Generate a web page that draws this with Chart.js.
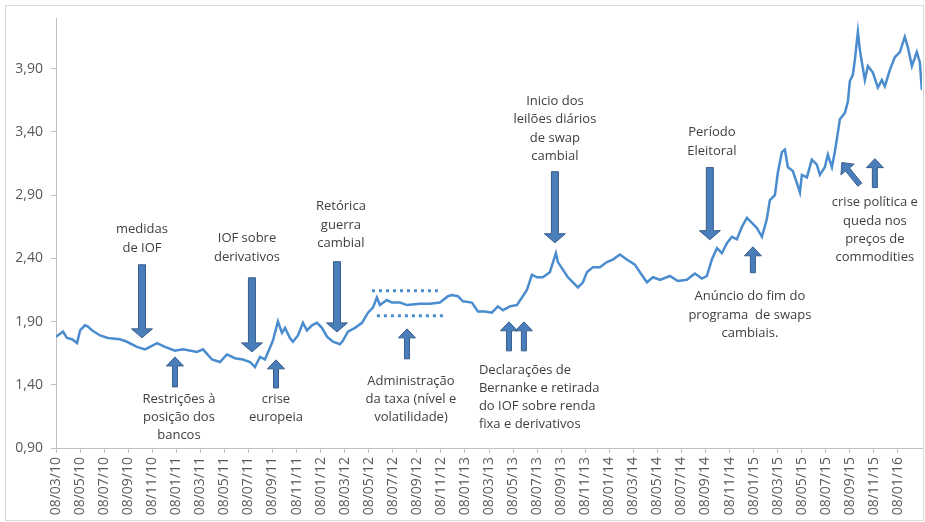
<!DOCTYPE html>
<html>
<head>
<meta charset="utf-8">
<script src="https://cdn.jsdelivr.net/npm/chart.js@4"></script>
<style>
  html, body { margin: 0; padding: 0; background: #fff; }
  #wrap { width: 925px; height: 522px; }
</style>
</head>
<body>
<div id="wrap"><canvas id="fxChart"></canvas></div>
<script>
// --- Data: months since 08/03/10 and BRL/USD rate ---
const months = [
  0.00, 0.58, 0.91, 1.33, 1.75, 2.00, 2.41, 2.66, 2.99, 3.66, 4.32, 5.32, 5.90, 6.73, 7.40, 7.81,
  8.40, 9.06, 9.89, 10.56, 11.72, 12.22, 12.97, 13.63, 14.21, 14.88, 15.54, 16.13, 16.54, 16.96,
  17.37, 18.04, 18.45, 18.79, 19.04, 19.45, 19.70, 20.12, 20.53, 20.86, 21.28, 21.70, 22.11, 22.53,
  23.03, 23.61, 23.86, 24.27, 24.86, 25.44, 25.94, 26.35, 26.68, 26.93, 27.51, 27.93, 28.60, 29.18,
  30.26, 31.09, 31.92, 32.59, 32.92, 33.42, 33.83, 34.58, 35.08, 35.66, 36.24, 36.74, 37.16, 37.74,
  38.32, 38.74, 39.15, 39.57, 39.98, 40.48, 41.06, 41.56, 41.73, 42.14, 42.56, 42.98, 43.39, 43.81,
  44.14, 44.64, 45.22, 45.80, 46.30, 46.88, 47.46, 48.13, 48.55, 49.13, 49.63, 50.21, 51.04, 51.70,
  52.45, 53.12, 53.70, 54.11, 54.53, 54.95, 55.36, 55.78, 56.20, 56.61, 57.03, 57.44, 57.86, 58.27,
  58.69, 59.10, 59.35, 59.77, 60.02, 60.35, 60.60, 60.85, 61.26, 61.68, 61.85, 62.01, 62.43, 62.84,
  63.26, 63.51, 63.92, 64.17, 64.51, 64.75, 65.00, 65.17, 65.59, 65.84, 66.00, 66.25, 66.42, 66.67,
  66.83, 67.00, 67.25, 67.50, 67.91, 68.33, 68.66, 68.91, 69.33, 69.74, 70.16, 70.57, 70.82, 71.16,
  71.57, 71.82, 71.99
];
const rate = [
  1.78, 1.82, 1.77, 1.76, 1.73, 1.83, 1.87, 1.86, 1.83, 1.79, 1.77, 1.76, 1.74, 1.70, 1.68, 1.70,
  1.73, 1.70, 1.67, 1.68, 1.66, 1.68, 1.60, 1.58, 1.64, 1.61, 1.60, 1.58, 1.54, 1.62,
  1.60, 1.75, 1.90, 1.81, 1.85, 1.77, 1.74, 1.79, 1.89, 1.83, 1.87, 1.89, 1.85, 1.78,
  1.74, 1.72, 1.75, 1.82, 1.85, 1.89, 1.97, 2.01, 2.09, 2.03, 2.07, 2.05, 2.05, 2.03,
  2.04, 2.04, 2.05, 2.10, 2.11, 2.10, 2.06, 2.05, 1.98, 1.98, 1.97, 2.02, 1.99, 2.02,
  2.03, 2.09, 2.15, 2.27, 2.25, 2.25, 2.29, 2.44, 2.37, 2.31, 2.25, 2.21, 2.17, 2.21,
  2.29, 2.33, 2.33, 2.37, 2.39, 2.43, 2.39, 2.35, 2.29, 2.21, 2.25, 2.23, 2.26, 2.22,
  2.23, 2.28, 2.24, 2.26, 2.39, 2.48, 2.44, 2.52, 2.57, 2.55, 2.65, 2.72, 2.68, 2.64,
  2.57, 2.71, 2.86, 2.90, 3.08, 3.24, 3.26, 3.12, 3.09, 2.97, 2.92, 3.06, 3.04, 3.18,
  3.14, 3.06, 3.12, 3.22, 3.12, 3.24, 3.39, 3.50, 3.55, 3.64, 3.80, 3.85, 3.97, 4.19,
  4.05, 3.95, 3.81, 3.92, 3.87, 3.75, 3.81, 3.76, 3.89, 3.99, 4.03, 4.15, 4.07, 3.92,
  4.03, 3.95, 3.73
];

// --- Axis ticks ---
const tickLabels = [
  "08/03/10", "08/05/10", "08/07/10", "08/09/10", "08/11/10",
  "08/01/11", "08/03/11", "08/05/11", "08/07/11", "08/09/11", "08/11/11",
  "08/01/12", "08/03/12", "08/05/12", "08/07/12", "08/09/12", "08/11/12",
  "08/01/13", "08/03/13", "08/05/13", "08/07/13", "08/09/13", "08/11/13",
  "08/01/14", "08/03/14", "08/05/14", "08/07/14", "08/09/14", "08/11/14",
  "08/01/15", "08/03/15", "08/05/15", "08/07/15", "08/09/15", "08/11/15",
  "08/01/16"
];
const yTicks = [0.90, 1.40, 1.90, 2.40, 2.90, 3.40, 3.90];

// --- Annotations (anchored in month / rate units) ---
const notes = [
  { m: 7.15,  v: 2.626, align: "center", lines: ["medidas", "de IOF"] },
  { m: 10.22, v: 1.288, align: "center", lines: ["Restrições à", "posição dos", "bancos"] },
  { m: 15.88, v: 2.555, align: "center", lines: ["IOF sobre", "derivativos"] },
  { m: 18.29, v: 1.288, align: "center", lines: ["crise", "europeia"] },
  { m: 23.69, v: 2.808, align: "center", lines: ["Retórica", "guerra", "cambial"] },
  { m: 29.51, v: 1.430, align: "center", lines: ["Administração", "da taxa (nível e", "volatilidade)"] },
  { m: 35.16, v: 1.518, align: "left",   lines: ["Declarações de", "Bernanke e retirada", "do IOF sobre renda", "fixa e derivativos"] },
  { m: 41.48, v: 3.640, align: "center", lines: ["Inicio dos", "leilões diários", "de swap", "cambial"] },
  { m: 54.53, v: 3.394, align: "center", lines: ["Período", "Eleitoral"] },
  { m: 57.69, v: 2.096, align: "center", lines: ["Anúncio do fim do", "programa  de swaps", "cambiais."] },
  { m: 68.08, v: 2.840, align: "center", lines: ["crise política e", "queda nos", "preços de", "commodities"] }
];
// tail -> tip
const arrows = [
  { m1: 7.15,  v1: 2.349, m2: 7.15,  v2: 1.771, w: 7 },
  { m1: 9.89,  v1: 1.383, m2: 9.89,  v2: 1.620, w: 5 },
  { m1: 16.29, v1: 2.246, m2: 16.29, v2: 1.660, w: 7 },
  { m1: 18.29, v1: 1.375, m2: 18.29, v2: 1.597, w: 5 },
  { m1: 23.36, v1: 2.373, m2: 23.36, v2: 1.818, w: 7 },
  { m1: 29.18, v1: 1.605, m2: 29.18, v2: 1.842, w: 5 },
  { m1: 37.66, v1: 1.668, m2: 37.66, v2: 1.898, w: 5 },
  { m1: 38.90, v1: 1.668, m2: 38.90, v2: 1.898, w: 5 },
  { m1: 41.48, v1: 3.085, m2: 41.48, v2: 2.523, w: 7 },
  { m1: 54.36, v1: 3.117, m2: 54.36, v2: 2.547, w: 7 },
  { m1: 57.94, v1: 2.286, m2: 57.94, v2: 2.491, w: 5 },
  { m1: 68.08, v1: 2.959, m2: 68.08, v2: 3.188, w: 5 },
  { m1: 66.83, v1: 2.982, m2: 65.34, v2: 3.157, w: 5 }
];
// dotted band around the managed rate (2012)
const bands = [
  { m1: 26.27, m2: 31.75, v: 2.143 },
  { m1: 26.68, m2: 32.17, v: 1.945 }
];

const lineColor = "#4A8CCD";
const arrowFill = "#4A7EBB";
const arrowEdge = "#385D8A";
const textColor = "#404040";
const axisColor = "#BFBFBF";

function drawArrow(ctx, x1, y1, x2, y2, w) {
  const dx = x2 - x1, dy = y2 - y1;
  const len = Math.hypot(dx, dy);
  const ux = dx / len, uy = dy / len;
  const nx = -uy, ny = ux;
  const hw = w + 3.5, hl = Math.min(9, len * 0.4);
  const bx = x2 - ux * hl, by = y2 - uy * hl;
  ctx.beginPath();
  ctx.moveTo(x1 + nx * w / 2, y1 + ny * w / 2);
  ctx.lineTo(bx + nx * w / 2, by + ny * w / 2);
  ctx.lineTo(bx + nx * hw, by + ny * hw);
  ctx.lineTo(x2, y2);
  ctx.lineTo(bx - nx * hw, by - ny * hw);
  ctx.lineTo(bx - nx * w / 2, by - ny * w / 2);
  ctx.lineTo(x1 - nx * w / 2, y1 - ny * w / 2);
  ctx.closePath();
  ctx.fillStyle = arrowFill;
  ctx.fill();
  ctx.lineWidth = 1;
  ctx.strokeStyle = arrowEdge;
  ctx.stroke();
}

// --- Annotation plugin ---
const annotationPlugin = {
  id: "annotations",
  afterDatasetsDraw(chart) {
    const { ctx, scales: { x, y } } = chart;
    ctx.save();

    // dotted band
    ctx.strokeStyle = lineColor;
    ctx.lineWidth = 3;
    ctx.setLineDash([3, 4]);
    bands.forEach(b => {
      ctx.beginPath();
      ctx.moveTo(x.getPixelForValue(b.m1), y.getPixelForValue(b.v));
      ctx.lineTo(x.getPixelForValue(b.m2), y.getPixelForValue(b.v));
      ctx.stroke();
    });
    ctx.setLineDash([]);

    arrows.forEach(a => {
      drawArrow(ctx,
        x.getPixelForValue(a.m1), y.getPixelForValue(a.v1),
        x.getPixelForValue(a.m2), y.getPixelForValue(a.v2), a.w);
    });

    ctx.fillStyle = textColor;
    ctx.font = "13px 'Open Sans'";
    ctx.textBaseline = "middle";
    notes.forEach(n => {
      const px = x.getPixelForValue(n.m);
      const py = y.getPixelForValue(n.v);
      ctx.textAlign = n.align;
      n.lines.forEach((t, i) => ctx.fillText(t, px, py + i * 18.3));
    });

    ctx.restore();
  },
  afterDraw(chart) {
    const { ctx, width, height } = chart;
    ctx.save();
    ctx.strokeStyle = "#D9D9D9";
    ctx.lineWidth = 1;
    ctx.strokeRect(5.5, 5.5, width - 7, height - 7);
    ctx.restore();
  }
};

// --- Chart.js setup ---
const ctx = document.getElementById("fxChart").getContext("2d");

new Chart(ctx, {
  type: "line",
  data: {
    datasets: [{
      label: "R$/US$",
      data: months.map((m, i) => ({ x: m, y: rate[i] })),
      borderColor: lineColor,
      borderWidth: 2.5,
      pointRadius: 0,
      tension: 0,
      fill: false
    }]
  },
  options: {
    responsive: true,
    maintainAspectRatio: false,
    animation: false,
    layout: { padding: { left: 0, right: 3, top: 18, bottom: 0 } },
    plugins: {
      legend: { display: false },
      tooltip: { enabled: false }
    },
    scales: {
      x: {
        type: "linear",
        min: 0,
        max: 72,
        afterBuildTicks: s => { s.ticks = tickLabels.map((_, i) => ({ value: i * 2 })); },
        afterFit: s => { s.height = 74; },
        ticks: {
          autoSkip: false,
          maxRotation: 90,
          minRotation: 90,
          padding: 4,
          color: "#595959",
          font: { family: "'Open Sans'", size: 14 },
          callback: v => tickLabels[Math.round(v / 2)]
        },
        grid: { drawOnChartArea: false, tickLength: 5, color: axisColor },
        border: { color: axisColor }
      },
      y: {
        min: 0.9,
        max: 4.3,
        afterBuildTicks: s => { s.ticks = yTicks.map(v => ({ value: v })); },
        afterFit: s => { s.width = 56; },
        ticks: {
          padding: 8,
          color: "#595959",
          font: { family: "'Open Sans'", size: 14 },
          callback: v => v.toFixed(2).replace(".", ",")
        },
        grid: { drawOnChartArea: false, tickLength: 5, color: axisColor },
        border: { color: axisColor }
      }
    }
  },
  plugins: [annotationPlugin]
});
</script>
</body>
</html>
